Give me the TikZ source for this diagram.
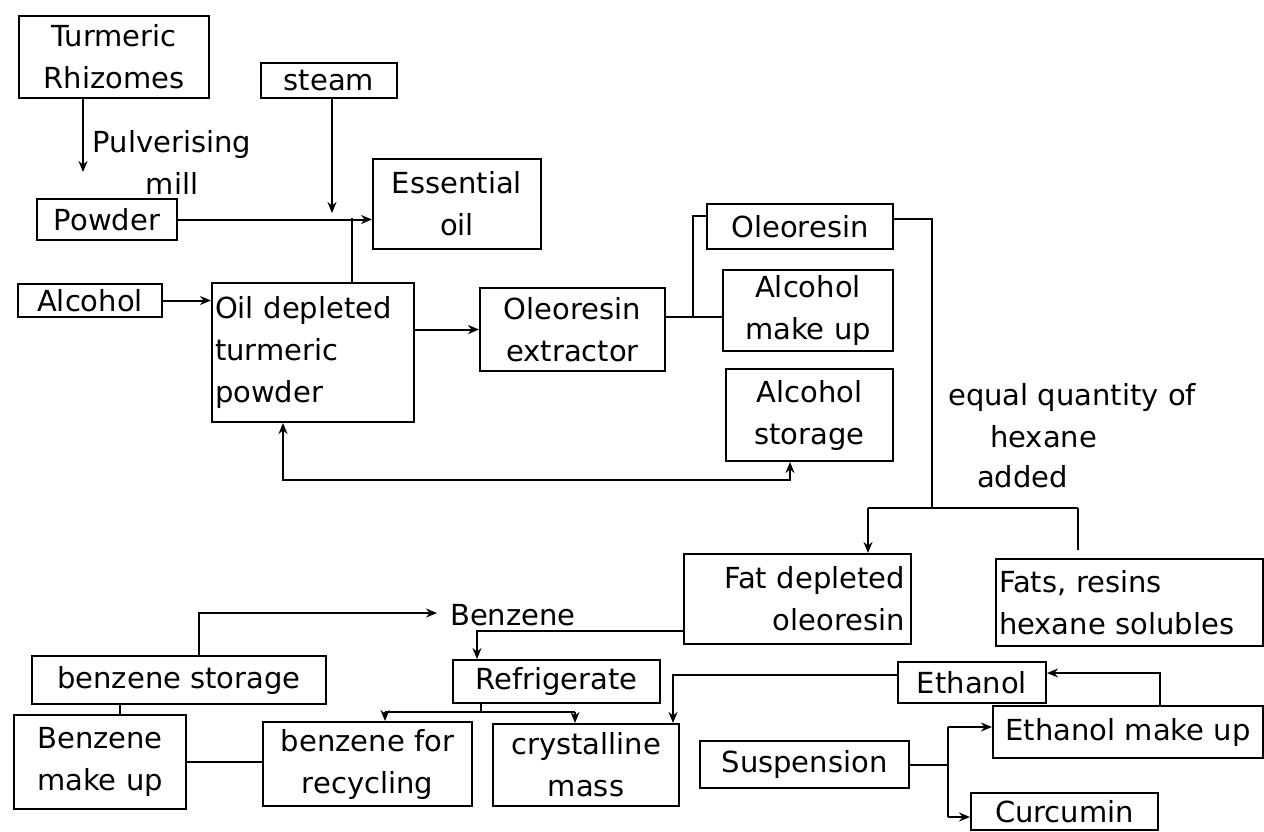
\documentclass[tikz,border=0pt]{standalone}
\usepackage{fontspec}
\setmainfont{DejaVu Sans}
\usetikzlibrary{arrows.meta}
\begin{document}
\begin{tikzpicture}[x=1pt,y=-1pt,
  bx/.style={draw, line width=2pt, inner sep=0pt, anchor=north west, align=center, font=\fontsize{29}{42}\selectfont},
  lbl/.style={inner sep=0pt, font=\fontsize{29}{42}\selectfont},
  ln/.style={line width=2pt},
  tip/.tip={Stealth[length=11pt,width=9pt]},
  arr/.style={line width=2pt, -tip},
  arrboth/.style={line width=2pt, tip-tip},
]
\fill[white] (0,0) rectangle (1264,831);
\useasboundingbox (0,0) rectangle (1264,831);

% boxes
\node[bx, minimum width=190pt, minimum height=82pt] (tr) at (18,15) {Turmeric\\Rhizomes};
\node[bx, minimum width=136pt, minimum height=35pt] (st) at (260,62) {steam};
\node[bx, minimum width=140pt, minimum height=41pt] (pw) at (36,198) {Powder};
\node[bx, minimum width=168pt, minimum height=90pt] (eo) at (372,158) {Essential\\oil};
\node[bx, minimum width=144pt, minimum height=33pt] (al) at (17,283) {Alcohol};
\node[bx, text width=196pt, inner xsep=3pt, align=left, minimum height=139pt] (od) at (211,282) {Oil depleted\\turmeric\\powder};
\node[bx, minimum width=185pt, minimum height=83pt] (ox) at (479,287) {Oleoresin\\extractor};
\node[bx, minimum width=186pt, minimum height=45pt] (or) at (706,203) {Oleoresin};
\node[bx, minimum width=170pt, minimum height=81pt] (am) at (722,269) {Alcohol\\make up};
\node[bx, minimum width=167pt, minimum height=92pt] (as) at (725,368) {Alcohol\\storage};
\node[bx, text width=215pt, inner xsep=6pt, align=right, minimum height=90pt] (fd) at (683,553) {Fat depleted\\oleoresin};
\node[bx, text width=261pt, inner xsep=3pt, align=left, minimum height=87pt] (fr) at (995,558) {Fats, resins\\hexane solubles};
\node[bx, minimum width=294pt, minimum height=48pt] (bs) at (31,655) {benzene storage};
\node[bx, minimum width=207pt, minimum height=43pt] (rf) at (452,659) {Refrigerate};
\node[bx, minimum width=172pt, minimum height=94pt] (bm) at (13,714) {Benzene\\make up};
\node[bx, minimum width=209pt, minimum height=84pt] (br) at (262,721) {benzene for\\recycling};
\node[bx, minimum width=186pt, minimum height=82pt] (cm) at (492,723) {crystalline\\mass};
\node[bx, minimum width=209pt, minimum height=47pt] (su) at (699,740) {Suspension};
\node[bx, minimum width=148pt, minimum height=41pt] (et) at (897,661) {Ethanol};
\node[bx, minimum width=270pt, minimum height=52pt] (em) at (992,705) {Ethanol make up};
\node[bx, minimum width=187pt, minimum height=37pt] (cu) at (970,792) {Curcumin};

% free labels
\node[lbl, align=center] (pv) at (172,162) {Pulverising\\mill};
\node[lbl, anchor=west] (bz) at (450,615) {Benzene};
\node[lbl, anchor=west] (h1) at (948,397) {equal quantity of};
\node[lbl, anchor=west] (h2) at (990,437) {hexane};
\node[lbl, anchor=west] (h3) at (977,477) {added};

% coordinates
\coordinate (pm) at (83,172);
\coordinate (sj) at (332,213);
\coordinate (oj) at (352,218);
\coordinate (xj) at (693,317);
\coordinate (oy) at (693,216);
\coordinate (hx) at (932,508);
\coordinate (sl) at (868,508);
\coordinate (sr) at (1078,508);
\coordinate (srb) at (1078,550);
\coordinate (rb) at (790,480);
\coordinate (rl) at (283,480);
\coordinate (fj) at (477,631);
\coordinate (bj) at (199,613);
\coordinate (bv) at (120,710);
\coordinate (rj) at (481,712);
\coordinate (rl2) at (385,712);
\coordinate (rr2) at (575,712);
\coordinate (ej) at (673,675);
\coordinate (mj) at (1160,673);
\coordinate (sj2) at (948,765);
\coordinate (su1) at (948,727);
\coordinate (su2) at (948,817);

% connectors
\draw[arr] (tr.south -| pm) -- (pm);
\draw[arr] (pw.east) -- (pw.east -| eo.west);
\draw[arr] (st.south -| sj) -- (sj);
\draw[ln] (od.north -| oj) -- (oj);
\draw[arr] (al.east) -- (al.east -| od.west);
\draw[arr] (od.east |- ox.west) -- (ox.west);
\draw[ln] (ox.east |- xj) -- (am.west |- xj);
\draw[ln] (xj) -- (oy) -- (oy -| or.west);
\draw[ln] ([yshift=7.5pt]or.east) -| (hx);
\draw[ln] (sl) -- (sr);
\draw[arr] (sl) -- (sl |- fd.north);
\draw[ln] (sr) -- (srb);
\draw[arrboth] (as.south -| rb) -- (rb) -- (rl) -- (rl |- od.south);
\draw[arr] (fd.west |- fj) -- (fj) -- (fj |- rf.north);
\draw[arr] (bs.north -| bj) -- (bj) -- ([xshift=-13pt]bz.west |- bj);
\draw[ln] (bs.south -| bv) -- (bm.north -| bv);
\draw[ln] (bm.east) -- (bm.east -| br.west);
\draw[ln] (rf.south -| rj) -- (rj);
\draw[ln] (rl2) -- (rr2);
\draw[arr] (rl2) -- (rl2 |- br.north);
\draw[arr] (rr2) -- (rr2 |- cm.north);
\draw[arr] (et.west |- ej) -- (ej) -- (ej |- cm.north);
\draw[arr] (em.north -| mj) -- (mj) -- (mj -| et.east);
\draw[ln] (su.east) -- (su.east -| sj2);
\draw[ln] (su1) -- (su2);
\draw[arr] (su1) -- (su1 -| em.west);
\draw[arr] (su2) -- (su2 -| cu.west);
\end{tikzpicture}
\end{document}
